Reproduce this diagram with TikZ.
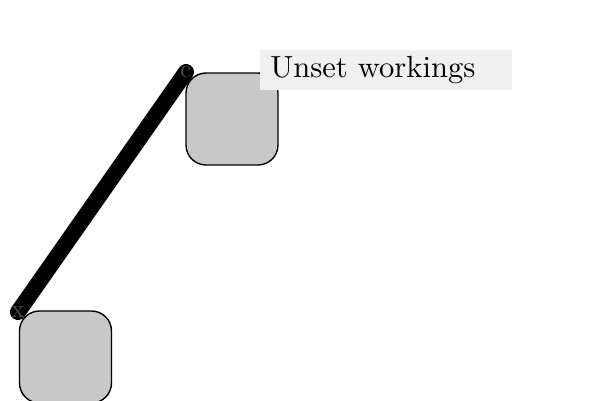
\documentclass[tikz,border=0pt]{standalone}
\definecolor{boxgray}{HTML}{C8C8C8}
\definecolor{notegray}{HTML}{F0F0F0}
\definecolor{tipgray}{HTML}{505050}
\tikzset{
  workbox/.style={draw,thick,fill=boxgray,rounded corners=0.4cm,minimum width=1.84cm,minimum height=1.84cm,inner sep=0pt},
  tipmark/.style={text=tipgray,font=\Large,inner sep=0pt},
  notebox/.style={fill=notegray,text width=4.64cm,inner xsep=0.2cm,minimum height=0.78cm,align=left,anchor=north west}
}
\begin{document}
\begin{tikzpicture}[x=0.02cm,y=-0.02cm]
  \useasboundingbox (0,0) rectangle (600,400);
  \coordinate (xend) at (18,312);
  \coordinate (cend) at (186,72);
  \draw[line width=0.32cm,line cap=round] (xend) -- (cend);
  \node[tipmark] (xmark) at (xend) {x};
  \node[tipmark] (cmark) at (cend) {c};
  \node[workbox] (lowbox) at (65.5,357) {};
  \node[workbox] (highbox) at (232,119) {};
  \node[notebox] (note) at (260,50) {\scalebox{1.74}{Unset workings}};
\end{tikzpicture}
\end{document}
